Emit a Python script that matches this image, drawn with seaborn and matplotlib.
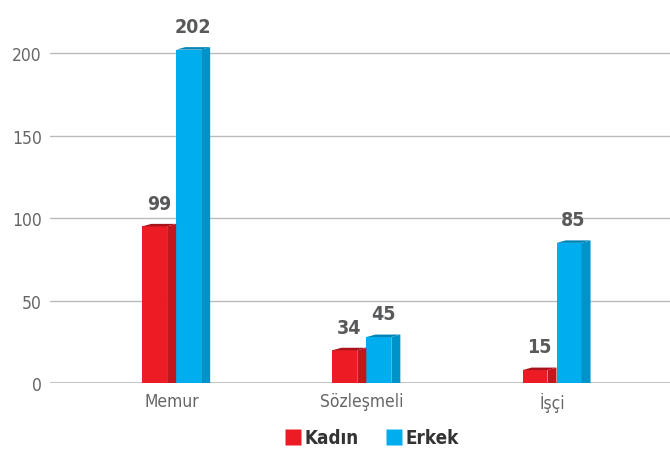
import pandas as pd
import numpy as np
import matplotlib
matplotlib.use('Agg')
import matplotlib.pyplot as plt
import seaborn as sns
from matplotlib.patches import Polygon
from matplotlib.lines import Line2D

# data (bar heights, labels as printed on the chart)
categories = ['Memur', 'Sözleşmeli', 'İşçi']
kadin = [95, 20, 8]
erkek = [202, 28, 85]
kadin_labels = ['99', '34', '15']
erkek_labels = ['202', '45', '85']
yticks = [0, 50, 100, 150, 200]

df = pd.DataFrame({
    'kategori': categories * 2,
    'deger': kadin + erkek,
    'cinsiyet': ['Kadın'] * 3 + ['Erkek'] * 3,
})

front = {'Kadın': '#ED1C24', 'Erkek': '#00AEEF'}
side = {'Kadın': '#C4161D', 'Erkek': '#0093C9'}
top = {'Kadın': '#A8121A', 'Erkek': '#0084B6'}

sns.set_style('white')
plt.rcParams['font.family'] = ['DejaVu Sans']

fig = plt.figure(figsize=(6.7, 4.56), dpi=100)
ax = fig.add_axes([50 / 670, (456 - 384.3) / 456, 620 / 670, 363.4 / 456])

sns.barplot(data=df, x='kategori', y='deger', hue='cinsiyet',
            palette=front, width=0.358, gap=0.27, legend=False,
            saturation=1, linewidth=0, edgecolor='none', ax=ax, zorder=3)

ax.set_xlim(-0.64, 2.62)
ax.set_ylim(0, 220)

# fake 3D: side and top faces
dx = 9 / 190
dy = 2.5 / 1.652
labels = {'Kadın': kadin_labels, 'Erkek': erkek_labels}
for cont, name in zip(ax.containers, ['Kadın', 'Erkek']):
    for bar, lab in zip(cont, labels[name]):
        x0 = bar.get_x()
        w = bar.get_width()
        h = bar.get_height()
        x1 = x0 + w
        ax.add_patch(Polygon([(x1, 0), (x1, h), (x1 + dx, h + dy), (x1 + dx, 0)],
                             closed=True, facecolor=side[name], edgecolor='none', zorder=3))
        ax.add_patch(Polygon([(x0, h), (x0 + dx, h + dy), (x1 + dx, h + dy), (x1, h)],
                             closed=True, facecolor=top[name], edgecolor='none', zorder=3))
        ax.annotate(lab, (x0 + (w + dx) / 2, h + dy), xytext=(0, 8),
                    textcoords='offset points', ha='center', va='bottom',
                    fontsize=14, fontweight='bold', fontstretch='condensed',
                    color='#58595B')

ax.set_yticks(yticks)
ax.yaxis.grid(True, color='#BBBBBB', linewidth=1, zorder=0)
ax.set_axisbelow(True)
sns.despine(ax=ax, left=True, bottom=True, top=True, right=True)
ax.axhline(0, color='#BBBBBB', linewidth=1.2, zorder=2)
ax.set_xlabel('')
ax.set_ylabel('')
ax.tick_params(axis='y', length=0, pad=6, labelsize=12.5, labelcolor='#666666')
ax.tick_params(axis='x', length=0, pad=6, labelsize=12.5, labelcolor='#666666')
for t in ax.get_xticklabels() + ax.get_yticklabels():
    t.set_fontweight('light')
    t.set_fontstretch('condensed')

handles = [Line2D([], [], marker='s', linestyle='none', markersize=11,
                  markerfacecolor=front[n], markeredgecolor='none') for n in ['Kadın', 'Erkek']]
leg = fig.legend(handles, ['Kadın', 'Erkek'], loc='center', ncol=2, frameon=False,
                 bbox_to_anchor=(371 / 670, 1 - 439 / 456), handletextpad=0.1,
                 columnspacing=1.4, handlelength=1.0,
                 prop={'weight': 'bold', 'size': 13.5, 'stretch': 'condensed'})
for t in leg.get_texts():
    t.set_color('#333333')

fig.savefig('out.png', dpi=100)
